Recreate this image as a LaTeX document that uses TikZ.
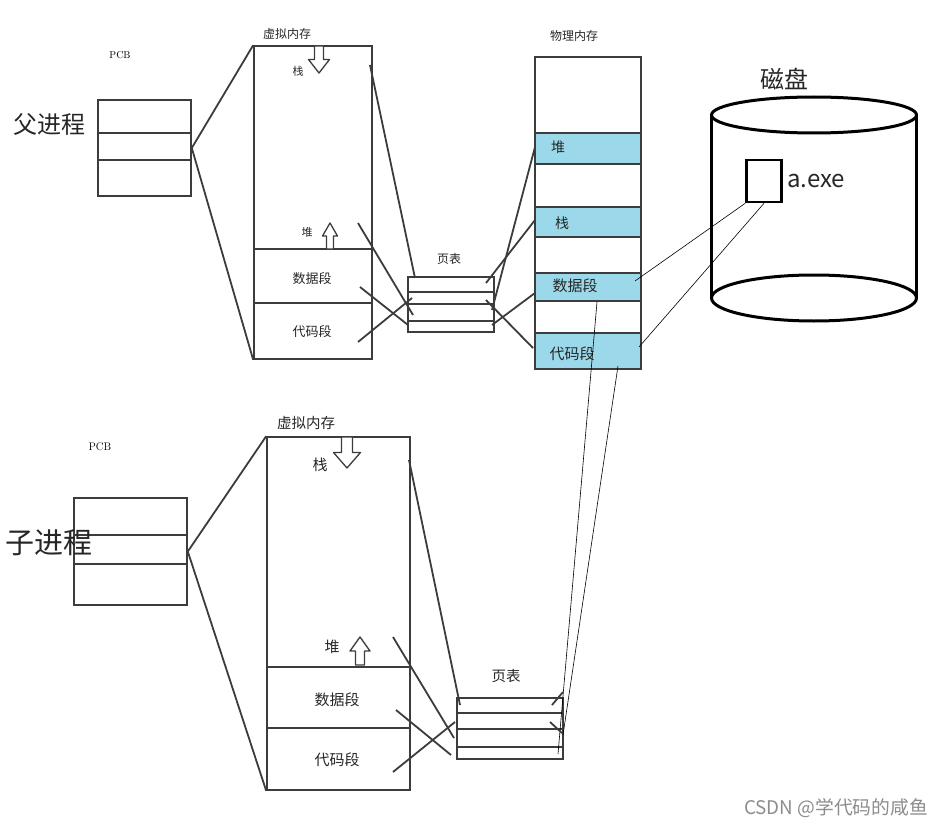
\documentclass[tikz,border=0pt]{standalone}
\usepackage{fontspec}
\newfontfamily\cjk{Noto Sans CJK SC}
\usepackage{tikz}
\definecolor{memblue}{RGB}{155,217,234}
\definecolor{pen}{RGB}{60,60,60}
\tikzset{membox/.style={draw=pen, line width=1.6pt, inner sep=0pt},
  segline/.style={draw=pen, line width=1.8pt},
  fileline/.style={draw=black, line width=0.6pt},
  growarrow/.style={draw=pen, line width=1.3pt, fill=white, line join=round},
  cjklabel/.style={font=\cjk\fontsize{#1}{#1}\selectfont, inner sep=0pt, text=black!85},
  pcblabel/.style={font=\fontsize{#1}{#1}\selectfont, inner sep=0pt}}
% block arrow: x, start y, length (negative points up), head width, shaft width
\newcommand\growpath[5]{%
  \draw [growarrow] (#1,#2) ++(-#5/2,0) -- ++(#5,0) -- ++(0,#3*0.5) -- ++(#4/2-#5/2,0)
    -- (#1,#2+#3) -- ++(-#4/2,-#3*0.5) -- ++(#4/2-#5/2,0) -- cycle;}

\begin{document}
\begin{tikzpicture}[x=1pt, y=-1pt]
\useasboundingbox (0,0) rectangle (948,832);

% parent process

  \node [pcblabel=10] (pcbAname) at (120,55) {PCB};
  \node [cjklabel=24] (parent) at (49,125) {父进程};
  \node [membox, minimum width=93pt, minimum height=96pt] (pcbA) at (144.5,148) {};
  \draw [membox] (pcbA.west |- 0,133) to (pcbA.east |- 0,133);
  \draw [membox] (pcbA.west |- 0,160) to (pcbA.east |- 0,160);

  \node [cjklabel=12] (vmAname) at (287,34) {虚拟内存};
  \node [membox, minimum width=118pt, minimum height=313pt] (vmA) at (313,202.5) {};
  \draw [membox] (vmA.west |- 0,249) to (vmA.east |- 0,249);
  \draw [membox] (vmA.west |- 0,303) to (vmA.east |- 0,303);
  \node [cjklabel=11] (vmAstack) at (298,71) {栈};
  \node [cjklabel=11] (vmAheap) at (307,232) {堆};
  \node [cjklabel=13] (vmAdata) at (312,279) {数据段};
  \node [cjklabel=13] (vmAcode) at (312,332) {代码段};
  \growpath{319}{46}{27}{21}{9}
  \growpath{330}{249}{-26}{15}{7}

  \node [cjklabel=12] (ptAname) at (449,259) {页表};
  \node [membox, minimum width=86pt, minimum height=55pt] (ptA) at (451,304.5) {};
  \foreach \y in {292,304,321}
    \draw [membox] (ptA.west |- 0,\y) to (ptA.east |- 0,\y);

% physical memory

  \node [cjklabel=12] (physname) at (574,36) {物理内存};
  \foreach \a/\b in {133/164, 207/237, 273/301, 333/369}
    \filldraw [membox, fill=memblue] (535,\a) rectangle (641,\b);
  \node [membox, minimum width=106pt, minimum height=312pt] (phys) at (588,213) {};
  \node [cjklabel=14] (physheap) at (558,147) {堆};
  \node [cjklabel=14] (physstack) at (562,223) {栈};
  \node [cjklabel=15] (physdata) at (575,286) {数据段};
  \node [cjklabel=15] (physcode) at (572,354) {代码段};

% disk

  \node [cjklabel=24] (diskname) at (784,79) {磁盘};
  \draw [line width=3pt] (814,115) ellipse [x radius=102.5, y radius=18];
  \draw [line width=3pt] (814,298) ellipse [x radius=102.5, y radius=23];
  \draw [line width=3pt] (711.5,115) to (711.5,298);
  \draw [line width=3pt] (916.5,115) to (916.5,298);
  \node [draw, line width=2.6pt, minimum width=35pt, minimum height=42pt] (exe) at (764,181) {};
  \node [cjklabel=24, anchor=west] (exename) at (787,181) {a.exe};

% child process

  \node [pcblabel=11] (pcbBname) at (100,447) {PCB};
  \node [membox, minimum width=113pt, minimum height=107pt] (pcbB) at (130.5,551.5) {};
  \draw [membox] (pcbB.west |- 0,535) to (pcbB.east |- 0,535);
  \draw [membox] (pcbB.west |- 0,564) to (pcbB.east |- 0,564);
  \node [cjklabel=29] (child) at (49,543) {子进程};

  \node [cjklabel=14.5] (vmBname) at (306,423) {虚拟内存};
  \node [membox, minimum width=143pt, minimum height=353pt] (vmB) at (338.5,613.5) {};
  \draw [membox] (vmB.west |- 0,667) to (vmB.east |- 0,667);
  \draw [membox] (vmB.west |- 0,728) to (vmB.east |- 0,728);
  \node [cjklabel=15] (vmBstack) at (320,465) {栈};
  \node [cjklabel=15] (vmBheap) at (332,647) {堆};
  \node [cjklabel=15] (vmBdata) at (337,700) {数据段};
  \node [cjklabel=15] (vmBcode) at (337,760) {代码段};
  \growpath{347}{437}{31}{27}{11}
  \growpath{360}{665}{-28}{20}{9}

  \node [cjklabel=14.5] (ptBname) at (506,676) {页表};
  \node [membox, minimum width=106pt, minimum height=61pt] (ptB) at (510,728.5) {};
  \foreach \y in {713,729,747}
    \draw [membox] (ptB.west |- 0,\y) to (ptB.east |- 0,\y);

  \node [font=\cjk\fontsize{18.8}{18.8}\selectfont, text=black!45, inner sep=0pt] (mark) at (836,808.5) {CSDN @学代码的咸鱼};

% ends of the mapping lines

  \coordinate (vaStack) at (370,65);
  \coordinate (vaHeap) at (358,223);
  \coordinate (vaData) at (360,287);
  \coordinate (vaCode) at (358,342);
  \coordinate (taOne) at (415,278);
  \coordinate (taTwo) at (412,298);
  \coordinate (taThree) at (413,315);
  \coordinate (taFour) at (408,325);
  \coordinate (tbOne) at (486,283);
  \coordinate (tbTwo) at (486,300);
  \coordinate (tbThree) at (492,310);
  \coordinate (tbFour) at (492,325);
  \coordinate (pHeap) at (535,147);
  \coordinate (pStack) at (535,220);
  \coordinate (pData) at (535,293);
  \coordinate (pCode) at (533,348);
  \coordinate (pDataR) at (635,281);
  \coordinate (pCodeR) at (639,347);
  \coordinate (pDataB) at (597,302);
  \coordinate (pCodeB) at (618,366);
  \coordinate (vbStack) at (409,460);
  \coordinate (vbHeap) at (393,637);
  \coordinate (vbData) at (396,710);
  \coordinate (vbCode) at (393,772);
  \coordinate (qaOne) at (460,705);
  \coordinate (qaTwo) at (455,722);
  \coordinate (qaThree) at (454,738);
  \coordinate (qaFour) at (451,755);
  \coordinate (qbOne) at (552,705);
  \coordinate (qbOneEnd) at (563,692);
  \coordinate (qbTwo) at (550,722);
  \coordinate (qbTwoEnd) at (562,733);
  \coordinate (qbThree) at (563,735);
  \coordinate (qbFour) at (558,754);

%  edges

  \draw [segline] (pcbA.east) to (vmA.north west);
  \draw [segline] (pcbA.east) to (vmA.south west);
  \draw [segline] (vaStack) to (taOne);
  \draw [segline] (vaHeap) to (taThree);
  \draw [segline] (vaData) to (taFour);
  \draw [segline] (vaCode) to (taTwo);
  \draw [segline] (tbOne) to (pStack);
  \draw [segline] (tbThree) to (pHeap);
  \draw [segline] (tbTwo) to (pCode);
  \draw [segline] (tbFour) to (pData);

  \draw [fileline] (pDataR) to (exe.south west);
  \draw [fileline] (pCodeR) to (exe.south);
  \draw [fileline] (pDataB) to (qbFour);
  \draw [fileline] (pCodeB) to (qbThree);

  \draw [segline] (pcbB.east) to (vmB.north west);
  \draw [segline] (pcbB.east) to (vmB.south west);
  \draw [segline] (vbStack) to (qaOne);
  \draw [segline] (vbHeap) to (qaThree);
  \draw [segline] (vbData) to (qaFour);
  \draw [segline] (vbCode) to (qaTwo);
  \draw [segline] (qbOne) to (qbOneEnd);
  \draw [segline] (qbTwo) to (qbTwoEnd);

\end{tikzpicture}
\end{document}
